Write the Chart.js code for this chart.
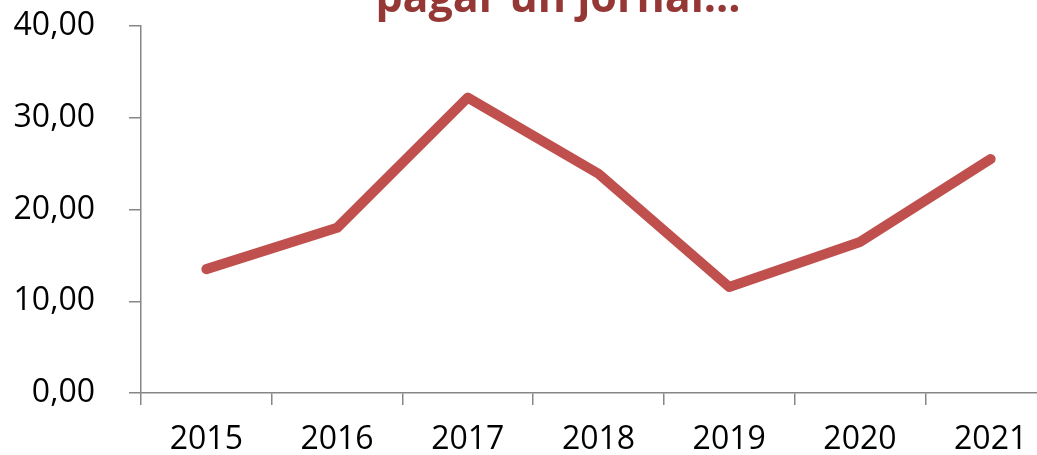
<!DOCTYPE html>
<html>
<head>
<meta charset="utf-8">
<script src="https://cdn.jsdelivr.net/npm/chart.js@4/dist/chart.umd.min.js"></script>
<style>
  html, body { margin:0; padding:0; background:#fff; overflow:hidden; }
  #wrap { width:1070px; height:455px; }
</style>
</head>
<body>
<div id="wrap"><canvas id="lineChart" width="1070" height="455"></canvas></div>
<script>
const years = ['2015', '2016', '2017', '2018', '2019', '2020', '2021'];
const values = [13.5, 18.0, 32.2, 23.9, 11.55, 16.45, 25.5];
const yTicks = [0, 10, 20, 30, 40];
const titleText = 'pagar un jornal...';

// title is cut off at the top of the picture, so draw just the visible line
const partialTitle = {
    id: 'partialTitle',
    afterDraw(chart){
        const ctx = chart.ctx;
        ctx.save();
        ctx.font = 'bold 43px "Open Sans"';
        ctx.fillStyle = '#953735';
        ctx.textAlign = 'center';
        ctx.textBaseline = 'alphabetic';
        ctx.fillText(titleText, 558, 12);
        ctx.restore();
    }
};

new Chart(document.getElementById('lineChart'), {
    type:'line',
    data:{
        labels: years,
        datasets:[{
            data: values,
            borderColor:'#C0504D',
            backgroundColor:'#C0504D',
            borderWidth:10,
            borderCapStyle:'round',
            borderJoinStyle:'round',
            pointRadius:0,
            tension:0
        }]
    },
    options:{
        responsive:false,
        animation:false,
        layout:{ padding:{ top:26, right:14, left:0, bottom:0 } },
        plugins:{
            legend:{ display:false },
            title:{ display:false },
            tooltip:{ enabled:false }
        },
        scales:{
            x:{
                offset:true,
                grid:{ offset:true, drawOnChartArea:false, drawTicks:true, tickLength:12, color:'#868686', lineWidth:1.5 },
                border:{ color:'#868686', width:1.5 },
                ticks:{ color:'#000', font:{ family:'Open Sans', size:32 }, padding:16, maxRotation:0 },
                afterFit(s){ s.height = 62; s.paddingLeft = 0; s.paddingRight = 0; }
            },
            y:{
                min:0,
                max:40,
                afterBuildTicks(s){ s.ticks = yTicks.map(v => ({ value:v })); },
                grid:{ drawOnChartArea:false, drawTicks:true, tickLength:12, color:'#868686', lineWidth:1.5 },
                border:{ color:'#868686', width:1.5 },
                ticks:{
                    color:'#000',
                    font:{ family:'Open Sans', size:32 },
                    padding:34,
                    callback:(v) => v.toFixed(2).replace('.', ',')
                },
                afterFit(s){ s.width = 141; s.paddingTop = 0; s.paddingBottom = 0; }
            }
        }
    },
    plugins:[partialTitle]
});
</script>
</body>
</html>
